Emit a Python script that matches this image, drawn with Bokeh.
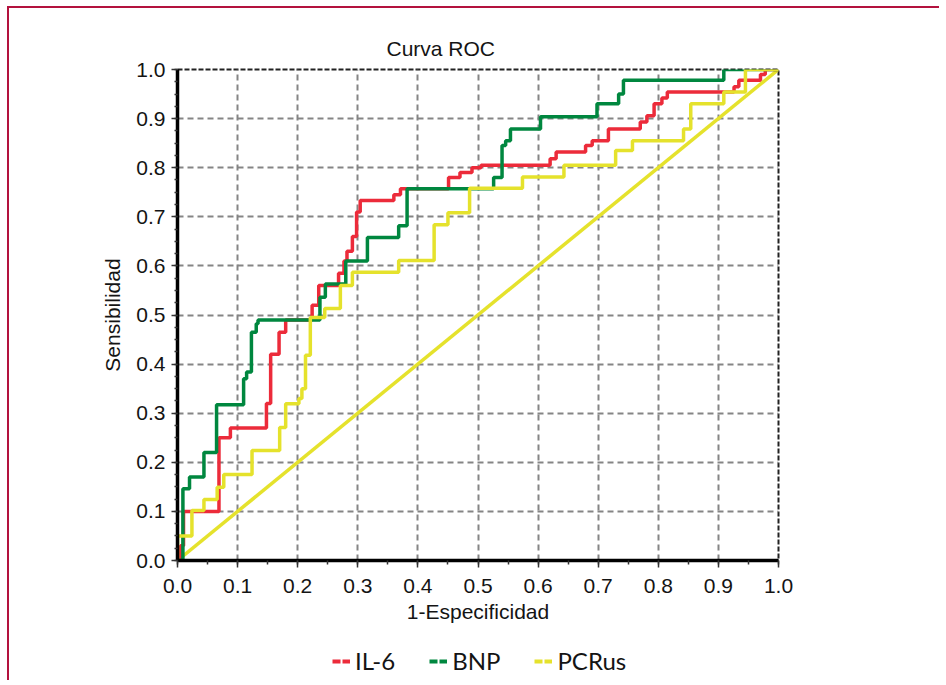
from bokeh.plotting import figure
from bokeh.layouts import column
from bokeh.models import (Range1d, SingleIntervalTicker, PrintfTickFormatter,
                          Legend, LegendItem)
from bokeh.embed import file_html
from bokeh.resources import INLINE

# ---------------- data ----------------
title_text = "Curva ROC"
x_label = "1-Especificidad"
y_label = "Sensibilidad"
series_names = ["IL-6", "BNP", "PCRus"]

il6_fpr = [0, 0.005, 0.005, 0.01, 0.01, 0.069, 0.069, 0.088, 0.088, 0.148,
           0.148, 0.155, 0.155, 0.169, 0.169, 0.18, 0.18, 0.224, 0.224, 0.235,
           0.235, 0.268, 0.268, 0.277, 0.277, 0.282, 0.282, 0.291, 0.291, 0.298,
           0.298, 0.304, 0.304, 0.36, 0.36, 0.371, 0.371, 0.451, 0.451, 0.47,
           0.47, 0.49, 0.49, 0.505, 0.505, 0.62, 0.62, 0.63, 0.63, 0.679,
           0.679, 0.69, 0.69, 0.717, 0.717, 0.77, 0.77, 0.781, 0.781, 0.793,
           0.793, 0.806, 0.806, 0.815, 0.815, 0.926, 0.926, 0.934, 0.934, 0.97,
           0.97, 0.978, 0.978, 1.0]
il6_tpr = [0, 0, 0.03, 0.03, 0.1, 0.1, 0.25, 0.25, 0.27, 0.27,
           0.32, 0.32, 0.42, 0.42, 0.465, 0.465, 0.49, 0.49, 0.52, 0.52,
           0.56, 0.56, 0.585, 0.585, 0.61, 0.61, 0.63, 0.63, 0.66, 0.66,
           0.71, 0.71, 0.733, 0.733, 0.745, 0.745, 0.757, 0.757, 0.78, 0.78,
           0.79, 0.79, 0.80, 0.80, 0.805, 0.805, 0.818, 0.818, 0.832, 0.832,
           0.845, 0.845, 0.855, 0.855, 0.879, 0.879, 0.893, 0.893, 0.906, 0.906,
           0.93, 0.93, 0.942, 0.942, 0.954, 0.954, 0.965, 0.965, 0.978, 0.978,
           0.99, 0.99, 1.0, 1.0]

bnp_fpr = [0, 0.009, 0.009, 0.02, 0.02, 0.044, 0.044, 0.065, 0.065, 0.11,
           0.11, 0.115, 0.115, 0.123, 0.123, 0.131, 0.131, 0.134, 0.134, 0.237,
           0.237, 0.246, 0.246, 0.28, 0.28, 0.316, 0.316, 0.368, 0.368, 0.382,
           0.382, 0.526, 0.526, 0.54, 0.54, 0.546, 0.546, 0.554, 0.554, 0.604,
           0.604, 0.698, 0.698, 0.734, 0.734, 0.742, 0.742, 0.909, 0.909, 1.0]
bnp_tpr = [0, 0, 0.146, 0.146, 0.17, 0.17, 0.22, 0.22, 0.317, 0.317,
           0.37, 0.37, 0.384, 0.384, 0.465, 0.465, 0.482, 0.482, 0.49, 0.49,
           0.536, 0.536, 0.563, 0.563, 0.61, 0.61, 0.658, 0.658, 0.682, 0.682,
           0.757, 0.757, 0.78, 0.78, 0.845, 0.845, 0.855, 0.855, 0.879, 0.879,
           0.904, 0.904, 0.93, 0.93, 0.95, 0.95, 0.978, 0.978, 1.0, 1.0]

pcr_fpr = [0, 0, 0.024, 0.024, 0.044, 0.044, 0.066, 0.066, 0.077, 0.077,
           0.124, 0.124, 0.17, 0.17, 0.18, 0.18, 0.202, 0.202, 0.207, 0.207,
           0.213, 0.213, 0.221, 0.221, 0.245, 0.245, 0.271, 0.271, 0.291, 0.291,
           0.368, 0.368, 0.427, 0.427, 0.45, 0.45, 0.486, 0.486, 0.574, 0.574,
           0.643, 0.643, 0.729, 0.729, 0.757, 0.757, 0.842, 0.842, 0.854, 0.854,
           0.909, 0.909, 0.945, 0.945, 1.0]
pcr_tpr = [0, 0.05, 0.05, 0.102, 0.102, 0.124, 0.124, 0.149, 0.149, 0.175,
           0.175, 0.224, 0.224, 0.271, 0.271, 0.319, 0.319, 0.33, 0.33, 0.35,
           0.35, 0.418, 0.418, 0.495, 0.495, 0.513, 0.513, 0.56, 0.56, 0.587,
           0.587, 0.611, 0.611, 0.684, 0.684, 0.708, 0.708, 0.758, 0.758, 0.781,
           0.781, 0.805, 0.805, 0.835, 0.835, 0.855, 0.855, 0.879, 0.879, 0.93,
           0.93, 0.954, 0.954, 1.0, 1.0]

ref_fpr = [0, 1]
ref_tpr = [0, 1]

tick_step = 0.1

# ---------------- styles ----------------
RED = "#EC2B3A"
GREEN = "#00873F"
YELLOW = "#E5E22C"
TXT = "#141414"
FONT = "Liberation Sans"

p = figure(width=930, height=632,
           x_range=Range1d(0, 1), y_range=Range1d(0, 1),
           output_backend="svg", toolbar_location=None,
           min_border_left=168, min_border_right=161,
           min_border_top=61, min_border_bottom=80)
p.background_fill_color = "white"
p.border_fill_color = "white"

# title
p.title.text = title_text
p.title.align = "left"
p.title.offset = 209
p.title.standoff = 20
p.title.text_font = FONT
p.title.text_font_size = "21px"
p.title.text_font_style = "normal"
p.title.text_color = TXT

# ticks / axes
p.xaxis.ticker = SingleIntervalTicker(interval=tick_step, num_minor_ticks=2)
p.yaxis.ticker = SingleIntervalTicker(interval=tick_step, num_minor_ticks=4)
p.axis.formatter = PrintfTickFormatter(format="%.1f")
p.axis.axis_line_color = "black"
p.axis.axis_line_width = 3.5
p.axis.major_tick_line_color = "#333333"
p.axis.minor_tick_line_color = "#333333"
p.axis.major_tick_line_width = 1.5
p.axis.minor_tick_line_width = 1.5
p.axis.major_tick_in = 0
p.axis.minor_tick_in = 0
p.xaxis.major_tick_out = 7
p.xaxis.minor_tick_out = 4
p.yaxis.major_tick_out = 6
p.yaxis.minor_tick_out = 3
p.axis.major_label_text_font = FONT
p.axis.major_label_text_font_size = "21px"
p.axis.major_label_text_color = TXT
p.yaxis.major_label_standoff = 6
p.xaxis.major_label_standoff = 11

p.xaxis.axis_label = x_label
p.yaxis.axis_label = y_label
p.axis.axis_label_text_font = FONT
p.axis.axis_label_text_font_size = "21px"
p.axis.axis_label_text_font_style = "normal"
p.axis.axis_label_text_color = TXT
p.xaxis.axis_label_standoff = 4
p.yaxis.axis_label_standoff = 9

# grid
p.grid.grid_line_color = "#858585"
p.grid.grid_line_width = 2
p.grid.grid_line_dash = "6 4"

p.outline_line_color = "#222222"
p.outline_line_width = 2
p.outline_line_dash = "5 2"

# curves
p.line(ref_fpr, ref_tpr, color=YELLOW, line_width=3.5)
p.line(il6_fpr, il6_tpr, color=RED, line_width=3.5)
p.line(bnp_fpr, bnp_tpr, color=GREEN, line_width=3.5)
p.line(pcr_fpr, pcr_tpr, color=YELLOW, line_width=3.5)

# ---------------- legend strip (frame aligned with the main plot) ----------------
pl = figure(width=930, height=40, x_range=Range1d(0, 1), y_range=Range1d(0, 1),
            output_backend="svg", toolbar_location=None,
            min_border_left=0, min_border_right=0, min_border_top=0, min_border_bottom=0)
pl.axis.visible = False
pl.grid.visible = False
pl.outline_line_color = None
pl.background_fill_color = "white"
pl.border_fill_color = "white"

nan = float("nan")
swatches = []
for c in [RED, GREEN, YELLOW]:
    swatches.append(pl.line(x=[nan], y=[nan], color=c, line_width=4, line_dash="8 2"))
legend = Legend(items=[LegendItem(label=n, renderers=[r]) for n, r in zip(series_names, swatches)],
                orientation="horizontal", location=(155, 5),
                label_text_font="Lato", label_text_font_size="24px", label_text_color=TXT,
                glyph_width=18, glyph_height=24, label_height=24, label_standoff=5,
                spacing=34, padding=0, margin=0,
                border_line_color=None, background_fill_alpha=0)
pl.add_layout(legend)

layout = column(p, pl, spacing=0)
layout.styles = {"border-top": "2px solid #B3123E", "border-left": "2px solid #B3123E",
                 "margin-left": "7px", "margin-top": "6px"}

open("out.html", "w").write(file_html(layout, INLINE))
